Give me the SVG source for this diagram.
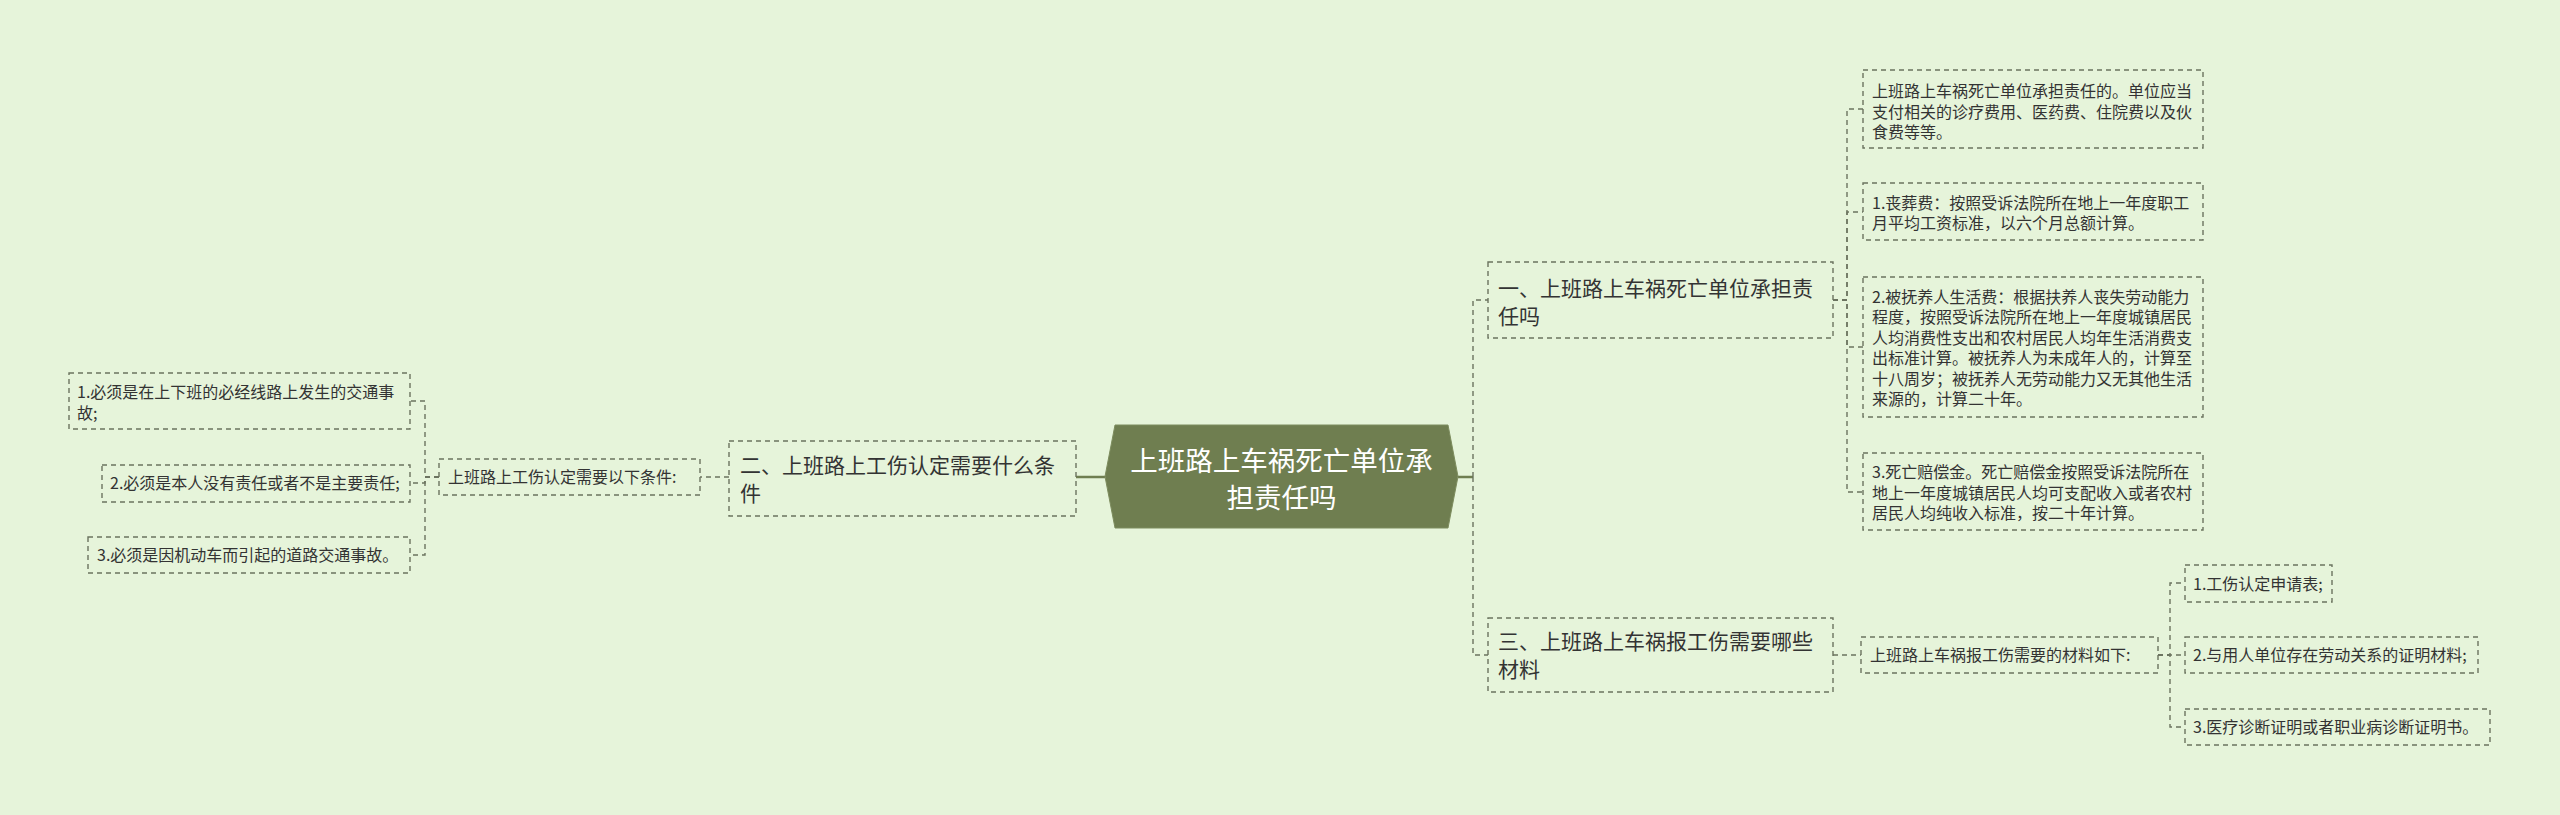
<svg xmlns="http://www.w3.org/2000/svg" width="2560" height="815" viewBox="0 0 2560 815">
<style>
.bg{fill:#e6f4da}
.box{fill:none;stroke:#6b735f;stroke-width:1.4;stroke-dasharray:5 4}
.con{fill:none;stroke:#6b735f;stroke-width:1.4;stroke-dasharray:5 4}
.solid{fill:none;stroke:#6f7e50;stroke-width:2.5}
.t{font-family:"Noto Sans CJK SC","Noto Sans",sans-serif;fill:#333333}
.s{font-size:16px}
.m{font-size:21px}
.r{font-size:27.5px;fill:#ffffff}
</style>
<rect class="bg" x="0" y="0" width="2560" height="815"/>
<g id="connectors">
<path class="solid" d="M1458,477 H1473"/>
<path class="con" d="M1473,477 V300 H1488"/>
<path class="con" d="M1473,477 V655 H1488"/>
<path class="con" d="M1833,300 H1847 V109 H1863"/>
<path class="con" d="M1833,300 H1847 V212 H1863"/>
<path class="con" d="M1833,300 H1847 V347 H1863"/>
<path class="con" d="M1833,300 H1847 V492 H1863"/>
<path class="con" d="M1833,655 H1861"/>
<path class="con" d="M2158,655 H2170 V583 H2185"/>
<path class="con" d="M2158,655 H2185"/>
<path class="con" d="M2158,655 H2170 V727 H2185"/>
<path class="solid" d="M1105,477 H1076"/>
<path class="con" d="M729,477 H700"/>
<path class="con" d="M439,477 H425 V401 H410"/>
<path class="con" d="M439,477 H425 V483 H410"/>
<path class="con" d="M439,477 H425 V555 H410"/>
</g>
<g id="root">
<polygon points="1105,476.5 1115,425 1448,425 1458,476.5 1448,528 1115,528" fill="#6f7e50" stroke="#7d8c5e" stroke-width="1"/>
<text class="t r" x="1281.5" y="470.5" text-anchor="middle">上班路上车祸死亡单位承</text>
<text class="t r" x="1281.5" y="507.5" text-anchor="middle">担责任吗</text>
</g>
<g id="n1">
<rect class="box" x="1488" y="262" width="345" height="76"/>
<text class="t m" x="1498" y="295.5">一、上班路上车祸死亡单位承担责</text>
<text class="t m" x="1498" y="323.5">任吗</text>
</g>
<g id="n1a">
<rect class="box" x="1863" y="70" width="340" height="78"/>
<text class="t s" x="1872" y="97">上班路上车祸死亡单位承担责任的。单位应当</text>
<text class="t s" x="1872" y="117.5">支付相关的诊疗费用、医药费、住院费以及伙</text>
<text class="t s" x="1872" y="138">食费等等。</text>
</g>
<g id="n1b">
<rect class="box" x="1863" y="183" width="340" height="57"/>
<text class="t s" x="1872" y="208.5">1.丧葬费：按照受诉法院所在地上一年度职工</text>
<text class="t s" x="1872" y="229">月平均工资标准，以六个月总额计算。</text>
</g>
<g id="n1c">
<rect class="box" x="1863" y="277" width="340" height="140"/>
<text class="t s" x="1872" y="302.5">2.被抚养人生活费：根据扶养人丧失劳动能力</text>
<text class="t s" x="1872" y="323">程度，按照受诉法院所在地上一年度城镇居民</text>
<text class="t s" x="1872" y="343.5">人均消费性支出和农村居民人均年生活消费支</text>
<text class="t s" x="1872" y="364">出标准计算。被抚养人为未成年人的，计算至</text>
<text class="t s" x="1872" y="384.5">十八周岁；被抚养人无劳动能力又无其他生活</text>
<text class="t s" x="1872" y="405">来源的，计算二十年。</text>
</g>
<g id="n1d">
<rect class="box" x="1863" y="453" width="340" height="77"/>
<text class="t s" x="1872" y="478">3.死亡赔偿金。死亡赔偿金按照受诉法院所在</text>
<text class="t s" x="1872" y="498.5">地上一年度城镇居民人均可支配收入或者农村</text>
<text class="t s" x="1872" y="519">居民人均纯收入标准，按二十年计算。</text>
</g>
<g id="n3">
<rect class="box" x="1488" y="618" width="345" height="74"/>
<text class="t m" x="1498" y="649">三、上班路上车祸报工伤需要哪些</text>
<text class="t m" x="1498" y="677">材料</text>
</g>
<g id="n3a">
<rect class="box" x="1861" y="637" width="297" height="36"/>
<text class="t s" x="1870" y="661">上班路上车祸报工伤需要的材料如下:</text>
</g>
<g id="n3a1">
<rect class="box" x="2185" y="565" width="147" height="37"/>
<text class="t s" x="2193" y="589.5">1.工伤认定申请表;</text>
</g>
<g id="n3a2">
<rect class="box" x="2185" y="637" width="293" height="36"/>
<text class="t s" x="2193" y="661">2.与用人单位存在劳动关系的证明材料;</text>
</g>
<g id="n3a3">
<rect class="box" x="2185" y="709" width="305" height="36"/>
<text class="t s" x="2193" y="733">3.医疗诊断证明或者职业病诊断证明书。</text>
</g>
<g id="n2">
<rect class="box" x="729" y="441" width="347" height="75"/>
<text class="t m" x="740" y="473">二、上班路上工伤认定需要什么条</text>
<text class="t m" x="740" y="501">件</text>
</g>
<g id="n2a">
<rect class="box" x="439" y="459" width="261" height="36"/>
<text class="t s" x="448" y="483">上班路上工伤认定需要以下条件:</text>
</g>
<g id="n2a1">
<rect class="box" x="69" y="373" width="341" height="56"/>
<text class="t s" x="77" y="398">1.必须是在上下班的必经线路上发生的交通事</text>
<text class="t s" x="77" y="418.5">故;</text>
</g>
<g id="n2a2">
<rect class="box" x="102" y="465" width="308" height="37"/>
<text class="t s" x="110" y="489">2.必须是本人没有责任或者不是主要责任;</text>
</g>
<g id="n2a3">
<rect class="box" x="88" y="537" width="322" height="36"/>
<text class="t s" x="97" y="561">3.必须是因机动车而引起的道路交通事故。</text>
</g>
</svg>
